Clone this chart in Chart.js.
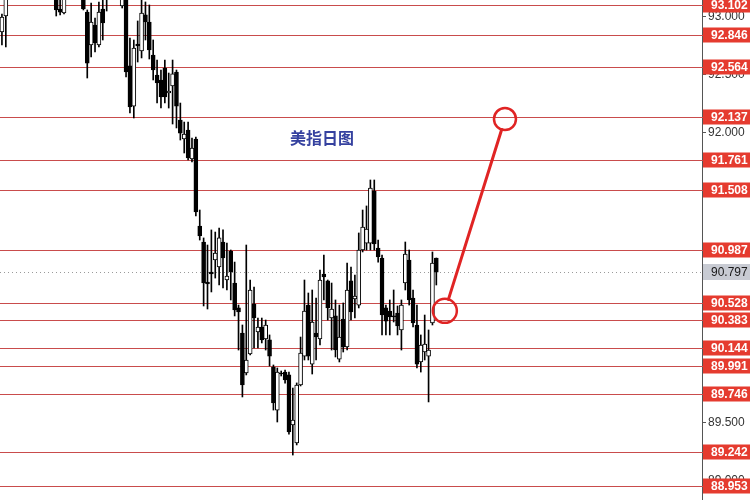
<!DOCTYPE html>
<html>
<head>
<meta charset="utf-8">
<script src="https://cdn.jsdelivr.net/npm/chart.js@4.4.1/dist/chart.umd.min.js"></script>
<style>
  html, body { margin: 0; padding: 0; background: #fff; }
  #wrap { width: 750px; height: 500px; }
</style>
</head>
<body>
<div id="wrap"><canvas id="dxyChart"></canvas></div>
<script>
// daily candles, oldest first (some sit above the visible window)
const opens = [92.869, 93.007, 93.231, 93.33, 93.28, 93.39, 93.50, 93.44, 93.54, 93.60,
  93.49, 93.42, 93.35, 93.31, 93.188, 93.067, 93.033, 93.17, 93.27, 93.36,
  93.31, 93.188, 93.041, 92.757, 92.929, 92.757, 93.067, 93.249, 93.18, 93.30,
  93.37, 93.093, 93.162, 92.576, 92.230, 92.765, 92.705, 93.016, 92.955, 92.670,
  92.498, 92.455, 92.558, 92.343, 92.403, 92.524, 92.110, 91.946, 92.023, 91.773,
  91.946, 91.195, 91.057, 90.712, 90.798, 90.902, 90.841, 91.057, 90.729, 90.979,
  90.703, 90.488, 90.272, 89.927, 90.091, 90.522, 90.281, 90.324, 90.220, 90.212,
  89.978, 89.607, 89.927, 89.935, 89.910, 89.478, 89.323, 89.823, 90.073, 90.513,
  90.004, 90.272, 90.220, 90.781, 90.721, 90.401, 90.419, 90.047, 90.393, 90.151,
  90.721, 90.565, 90.513, 90.988, 91.048, 91.048, 91.497, 91.005, 90.919, 90.488,
  90.462, 90.419, 90.444, 90.298, 90.703, 90.902, 90.574, 90.341, 90.022, 90.108,
  90.073, 90.358, 90.919];
const highs = [93.024, 93.274, 93.38, 93.45, 93.42, 93.55, 93.62, 93.58, 93.68, 93.66,
  93.56, 93.51, 93.47, 93.40, 93.231, 93.145, 93.197, 93.31, 93.40, 93.44,
  93.38, 93.231, 93.059, 93.119, 92.990, 93.128, 93.145, 93.318, 93.35, 93.42,
  93.41, 93.231, 93.188, 92.817, 92.800, 92.964, 93.145, 93.128, 93.102, 92.800,
  92.627, 92.541, 92.627, 92.515, 92.627, 92.541, 92.256, 92.092, 92.092, 91.954,
  91.963, 91.333, 91.092, 91.031, 91.161, 91.143, 91.178, 91.161, 91.048, 90.988,
  90.884, 90.513, 90.341, 91.031, 90.729, 90.669, 90.401, 90.401, 90.384, 90.255,
  89.996, 89.970, 89.944, 89.953, 89.935, 89.797, 89.841, 90.237, 90.729, 90.617,
  90.643, 90.574, 90.815, 90.945, 90.729, 90.703, 90.557, 90.513, 90.531, 90.876,
  90.841, 90.772, 91.135, 91.333, 91.368, 91.592, 91.592, 91.074, 90.945, 90.513,
  90.557, 90.643, 90.505, 90.557, 91.057, 90.988, 90.643, 90.513, 90.255, 90.427,
  90.298, 90.971, 90.919];
const lows = [92.757, 92.740, 93.19, 93.25, 93.22, 93.34, 93.41, 93.37, 93.47, 93.45,
  93.38, 93.30, 93.26, 93.20, 93.007, 93.016, 93.024, 93.16, 93.22, 93.28,
  93.21, 93.059, 92.472, 92.653, 92.696, 92.740, 92.800, 93.050, 93.16, 93.24,
  93.20, 93.076, 92.481, 92.170, 92.127, 92.610, 92.645, 92.800, 92.636, 92.455,
  92.256, 92.213, 92.256, 92.213, 92.075, 92.041, 91.937, 91.825, 91.765, 91.747,
  91.281, 91.074, 90.505, 90.479, 90.626, 90.746, 90.686, 90.660, 90.643, 90.557,
  90.419, 90.125, 89.720, 89.910, 90.082, 90.143, 90.143, 90.186, 90.125, 89.987,
  89.607, 89.504, 89.901, 89.840, 89.400, 89.219, 89.306, 89.815, 90.039, 90.039,
  89.918, 90.039, 90.168, 90.557, 90.384, 90.125, 90.065, 90.022, 90.108, 90.125,
  90.384, 90.401, 90.488, 90.971, 90.988, 90.988, 90.988, 90.884, 90.255, 90.255,
  90.255, 90.367, 90.255, 90.125, 90.643, 90.513, 90.324, 89.970, 89.935, 90.039,
  89.677, 90.341, 90.686];
const closes = [92.998, 93.231, 93.33, 93.28, 93.39, 93.50, 93.44, 93.54, 93.60, 93.49,
  93.42, 93.35, 93.31, 93.24, 93.059, 93.041, 93.162, 93.27, 93.36, 93.31,
  93.25, 93.067, 92.601, 92.955, 92.774, 93.041, 92.947, 93.171, 93.30, 93.37,
  93.24, 93.188, 92.524, 92.222, 92.731, 92.748, 93.033, 92.955, 92.714, 92.541,
  92.429, 92.308, 92.308, 92.360, 92.507, 92.230, 91.997, 91.989, 91.782, 91.868,
  91.316, 91.109, 90.703, 90.695, 90.781, 90.962, 91.092, 90.919, 90.764, 90.798,
  90.470, 90.453, 89.823, 90.039, 90.643, 90.401, 90.324, 90.212, 90.341, 90.073,
  89.668, 89.935, 89.918, 89.866, 89.418, 89.521, 89.823, 90.099, 90.462, 90.073,
  90.367, 90.237, 90.729, 90.755, 90.488, 90.479, 90.125, 90.237, 90.151, 90.643,
  90.453, 90.591, 90.988, 91.186, 91.169, 91.523, 91.040, 90.928, 90.427, 90.375,
  90.410, 90.410, 90.332, 90.513, 90.953, 90.557, 90.358, 90.004, 90.168, 90.177,
  90.125, 90.876, 90.797];

// support / resistance levels drawn on the chart
const levels = [93.102, 92.846, 92.564, 92.137, 91.761, 91.508, 90.987,
  90.528, 90.383, 90.144, 89.991, 89.746, 89.242, 88.953];
const lastPrice = 90.797;

const yMin = 88.831, yMax = 93.145, tickStep = 0.5;
const slotMax = 180.5;   // empty slots to the right of the last candle

// hand-drawn arrow: from circle to circle (index, price)
const arrowFrom = { x: 114.2, y: 90.463 };
const arrowTo = { x: 129.7, y: 92.118 };
const titleText = '美指日图';
const titleAt = { x: 82.5, y: 91.954 };

Chart.defaults.font.family = '"Liberation Sans", Arial, sans-serif';

const bodies = opens.map((o, i) => ({ x: i, y: [o, closes[i]] }));
const wicks = lows.map((l, i) => ({ x: i, y: [l, highs[i]] }));

const overlay = {
  id: 'overlay',
  beforeDatasetsDraw(chart) {
    const { ctx, chartArea: a, scales: { y } } = chart;
    ctx.save();
    ctx.strokeStyle = '#c94c4c';
    ctx.lineWidth = 1;
    levels.forEach(v => {
      const py = Math.round(y.getPixelForValue(v)) + 0.5;
      ctx.beginPath();
      ctx.moveTo(a.left, py);
      ctx.lineTo(a.right + 2, py);
      ctx.stroke();
    });
    const lp = Math.round(y.getPixelForValue(lastPrice)) + 0.5;
    ctx.strokeStyle = '#9a9a9a';
    ctx.setLineDash([1, 3]);
    ctx.beginPath();
    ctx.moveTo(a.left, lp);
    ctx.lineTo(a.right, lp);
    ctx.stroke();
    ctx.restore();
  },
  afterDatasetsDraw(chart) {
    const { ctx, scales: { x, y } } = chart;
    const x1 = x.getPixelForValue(arrowFrom.x), y1 = y.getPixelForValue(arrowFrom.y);
    const x2 = x.getPixelForValue(arrowTo.x), y2 = y.getPixelForValue(arrowTo.y);
    const r1 = 12, r2 = 11;
    const len = Math.hypot(x2 - x1, y2 - y1);
    const ux = (x2 - x1) / len, uy = (y2 - y1) / len;
    ctx.save();
    ctx.strokeStyle = '#e02424';
    ctx.lineWidth = 3;
    ctx.lineCap = 'round';
    ctx.beginPath();
    ctx.moveTo(x1 + ux * r1, y1 + uy * r1);
    ctx.lineTo(x2 - ux * r2, y2 - uy * r2);
    ctx.stroke();
    ctx.lineWidth = 2.5;
    ctx.beginPath();
    ctx.arc(x1, y1, r1, 0, Math.PI * 2);
    ctx.stroke();
    ctx.beginPath();
    ctx.arc(x2, y2, r2, 0, Math.PI * 2);
    ctx.stroke();

    ctx.fillStyle = '#35419f';
    ctx.font = 'bold 16px "Noto Sans CJK SC", sans-serif';
    ctx.textAlign = 'center';
    ctx.textBaseline = 'middle';
    ctx.fillText(titleText, x.getPixelForValue(titleAt.x), y.getPixelForValue(titleAt.y));
    ctx.restore();
  },
  afterDraw(chart) {
    const { ctx, chartArea: a, scales: { y } } = chart;
    const bx = a.right + 1, bw = chart.width - bx, bh = 15;
    ctx.save();
    ctx.textBaseline = 'middle';
    ctx.textAlign = 'left';
    levels.forEach(v => {
      const py = Math.round(y.getPixelForValue(v));
      ctx.fillStyle = '#e53b2f';
      ctx.fillRect(bx, py - bh / 2, bw, bh);
      ctx.fillStyle = '#fff';
      ctx.font = 'bold 12px "Liberation Sans", Arial, sans-serif';
      ctx.fillText(v.toFixed(3), bx + 8, py + 1);
    });
    const lp = Math.round(y.getPixelForValue(lastPrice));
    ctx.fillStyle = '#c8cbd3';
    ctx.fillRect(bx, lp - 8, bw, 16);
    ctx.fillStyle = '#1a1a1a';
    ctx.font = '12px "Liberation Sans", Arial, sans-serif';
    ctx.fillText(lastPrice.toFixed(3), bx + 8, lp + 1);
    ctx.restore();
  }
};

new Chart(document.getElementById('dxyChart'), {
  type: 'bar',
  data: {
    datasets: [{
      label: 'body',
      data: bodies,
      order: 0,
      grouped: false,
      barThickness: 4,
      minBarLength: 1,
      borderWidth: 1,
      borderSkipped: false,
      borderColor: '#000',
      backgroundColor: ctx => closes[ctx.dataIndex] >= opens[ctx.dataIndex] ? '#fff' : '#000'
    }, {
      label: 'wick',
      data: wicks,
      order: 1,
      grouped: false,
      barThickness: 1,
      borderWidth: 0,
      backgroundColor: '#000'
    }]
  },
  options: {
    responsive: true,
    maintainAspectRatio: false,
    animation: false,
    layout: { padding: 0 },
    plugins: { legend: { display: false }, tooltip: { enabled: false } },
    scales: {
      x: { type: 'linear', min: -0.5, max: slotMax, offset: false, display: false },
      y: {
        position: 'right',
        min: yMin,
        max: yMax,
        afterFit(scale) {
          scale.width = 48;
          scale.paddingTop = 0;
          scale.paddingBottom = 0;
        },
        border: { color: '#555', width: 1 },
        grid: { drawOnChartArea: false, tickLength: 4, color: '#555' },
        ticks: {
          stepSize: tickStep,
          includeBounds: false,
          padding: 2,
          color: '#333',
          font: { size: 12 },
          callback: v => v.toFixed(3)
        }
      }
    }
  },
  plugins: [overlay]
});
</script>
</body>
</html>
